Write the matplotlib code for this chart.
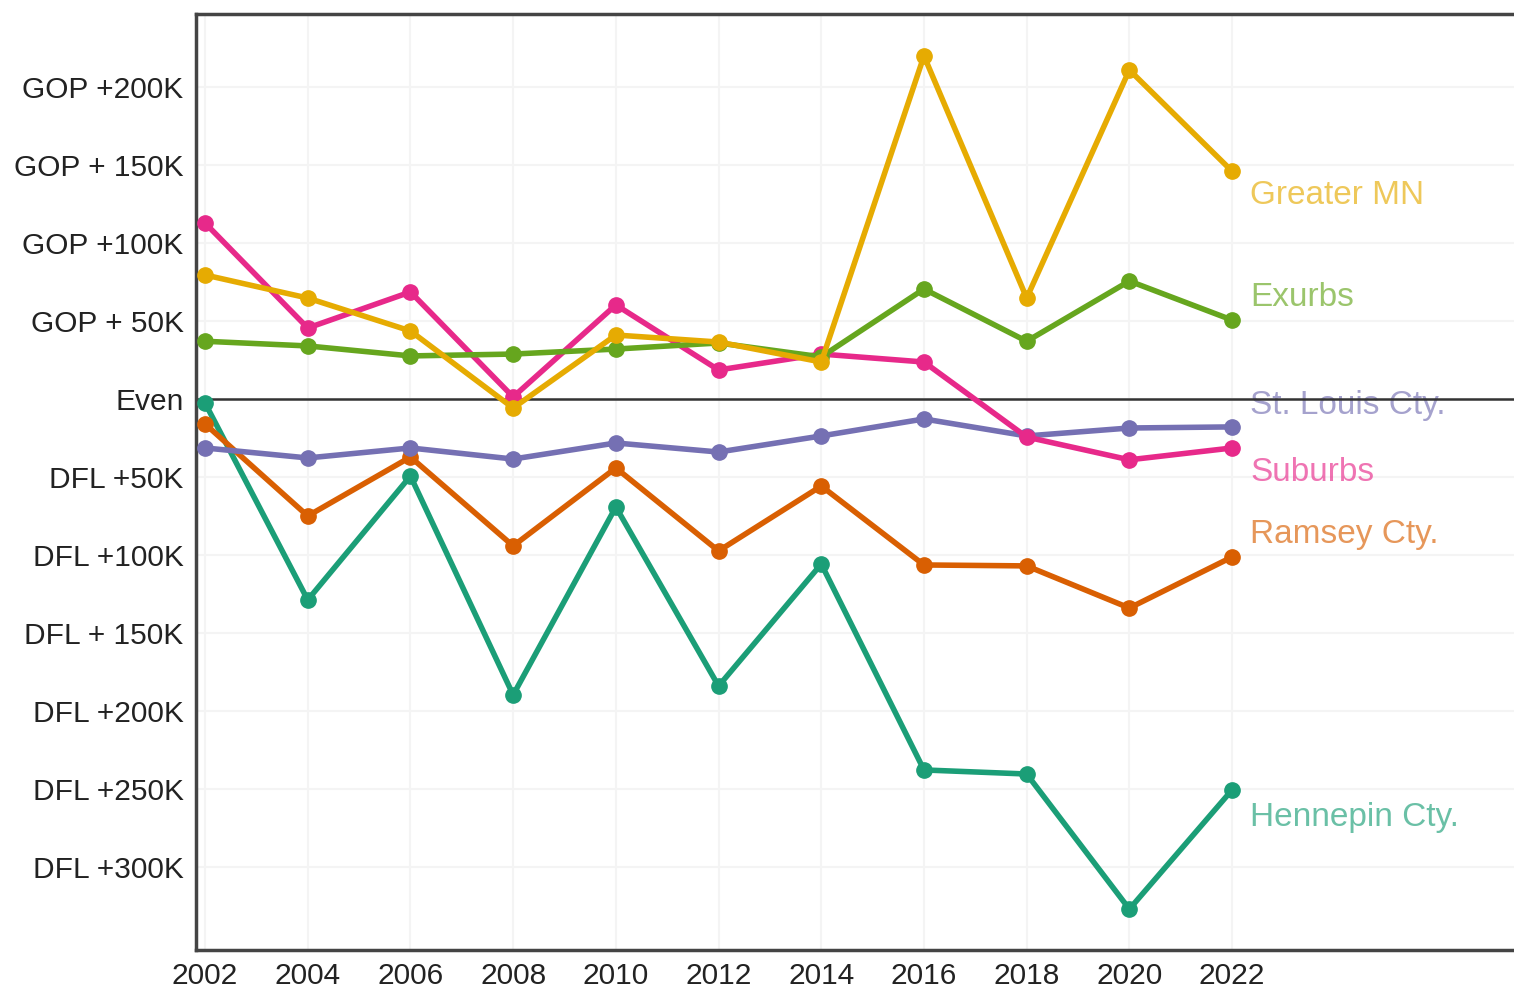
import matplotlib.pyplot as plt

# Margin by region, in thousands of votes (positive = GOP, negative = DFL)
years = [2002, 2004, 2006, 2008, 2010, 2012, 2014, 2016, 2018, 2020, 2022]
greater_mn = [79.5, 64.7, 43.6, -5.8, 41, 36.5, 23.7, 219.9, 64.7, 210.9, 146]
exurbs = [37, 34, 27.6, 28.8, 32, 35.9, 27, 70.5, 37, 75.6, 50.6]
suburbs = [112.8, 45.5, 68.6, 1.3, 60.3, 18.6, 28.8, 23.7, -24.4, -39, -31.4]
st_louis = [-31.4, -37.8, -31.4, -38.5, -28.2, -34, -23.7, -12.8, -23.7, -18.6, -17.9]
ramsey = [-16, -75, -37.2, -94.2, -44.2, -97.4, -55.8, -106.4, -107, -134, -101.3]
hennepin = [-2.6, -128.8, -49.4, -189.7, -69.2, -184, -105.8, -237.8, -240.4, -327, -250.6]

tick_values = [200, 150, 100, 50, 0, -50, -100, -150, -200, -250, -300]
tick_labels = ['GOP +200K', 'GOP + 150K', 'GOP +100K', 'GOP + 50K', 'Even',
               'DFL +50K', 'DFL +100K', 'DFL + 150K', 'DFL +200K', 'DFL +250K', 'DFL +300K']

series = [
    ('Hennepin Cty.', hennepin, '#1b9e77'),
    ('Ramsey Cty.', ramsey, '#d95f02'),
    ('St. Louis Cty.', st_louis, '#7570b3'),
    ('Suburbs', suburbs, '#e7298a'),
    ('Exurbs', exurbs, '#66a61e'),
    ('Greater MN', greater_mn, '#e6ab02'),
]
# where each end label sits (in K)
label_y = {'Greater MN': 130.5, 'Exurbs': 65, 'St. Louis Cty.': -4, 'Suburbs': -47,
           'Ramsey Cty.': -87, 'Hennepin Cty.': -268}

plt.rcParams['font.family'] = ['Liberation Sans', 'DejaVu Sans']

fig = plt.figure(figsize=(15.14, 9.91), dpi=100)
ax = fig.add_axes([0.1295, 0.0414, 0.8705, 0.9445])

for name, vals, color in series:
    ax.plot(years, vals, color=color, lw=4, marker='o', markersize=11, zorder=3)
    ax.text(2022.35, label_y[name], name, color=color, alpha=0.65, fontsize=24,
            va='center', ha='left', zorder=1)

ax.axhline(0, color='#333333', lw=1.8, zorder=2)

ax.set_xlim(2001.825, 2027.49)
ax.set_ylim(-353.2, 246.8)
ax.set_xticks(years)
ax.set_xticklabels([str(y) for y in years])
ax.set_yticks(tick_values)
ax.set_yticklabels(tick_labels)
ax.tick_params(length=0, labelsize=21.5, colors='#222222')
ax.tick_params(axis='y', pad=9)
ax.tick_params(axis='x', pad=9)
ax.grid(True, color='#f4f4f4', lw=1.5, zorder=0)
ax.set_axisbelow(True)

for side in ['left', 'top', 'bottom']:
    ax.spines[side].set_color('#444444')
    ax.spines[side].set_linewidth(2.5)
ax.spines['right'].set_visible(False)

plt.savefig('out.png', dpi=100)
